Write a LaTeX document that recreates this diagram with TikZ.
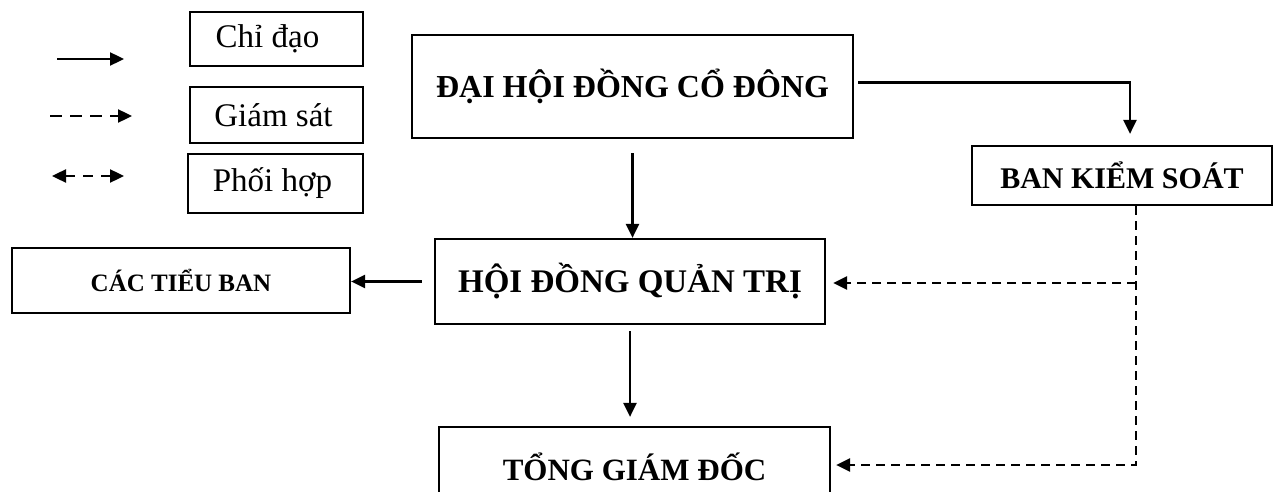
\documentclass[tikz,border=0pt]{standalone}
\usepackage{fontspec}
\setmainfont{Liberation Serif}
\usetikzlibrary{arrows.meta,calc}
\tikzset{
  box/.style={draw=black, line width=2.2pt, inner sep=0pt, align=center},
  mainbox/.style={box, font=\fontsize{32}{38}\selectfont\bfseries},
  legbox/.style={box, font=\fontsize{33}{40}\selectfont},
  tip/.style={-{Triangle[length=14pt,width=13pt]}},
  solidarrow/.style={line width=2.4pt, tip},
  dasharrow/.style={line width=2.4pt, tip, dash pattern=on 9pt off 6pt},
}
\begin{document}
\begin{tikzpicture}[x=1pt,y=-1pt]
\clip (0,0) rectangle (1274,492);
\fill[white] (0,0) rectangle (1274,492);
% legend
\node[legbox, minimum width=173pt, minimum height=54pt] (lchi) at (276.5,39) {\raisebox{-3pt}{Chỉ đạo}\hspace*{18pt}};
\node[legbox, minimum width=173pt, minimum height=56pt] (lgiam) at (276.5,115) {\raisebox{-3pt}{Giám sát}\hspace*{6pt}};
\node[legbox, minimum width=175pt, minimum height=59pt] (lphoi) at (275.5,183.5) {Phối hợp\hspace*{6pt}};
\coordinate (a1) at (57,59);  \coordinate (b1) at (124,59);
\coordinate (a2) at (50,116); \coordinate (b2) at (132,116);
\coordinate (a3) at (52,176); \coordinate (b3) at (124,176);
\draw[solidarrow] (a1) -- (b1);
\draw[line width=2.4pt, tip, dash pattern=on 12pt off 8pt] (a2) -- (b2);
\draw[line width=2.4pt, {Triangle[length=14pt,width=13pt]}-{Triangle[length=14pt,width=13pt]}, dash pattern=on 10pt off 8pt] (a3) -- (b3);
% main boxes
\node[mainbox, minimum width=441pt, minimum height=103pt] (dh) at (632.5,86.5) {ĐẠI HỘI ĐỒNG CỔ ĐÔNG};
\node[mainbox, font=\fontsize{33}{38}\selectfont\bfseries, minimum width=390pt, minimum height=85pt] (hd) at (630,281.5) {HỘI ĐỒNG QUẢN TRỊ};
\node[mainbox, font=\fontsize{30}{36}\selectfont\bfseries, minimum width=300pt, minimum height=59pt] (bks) at (1122,175.5) {BAN KIỂM SOÁT};
\node[mainbox, font=\fontsize{25}{30}\selectfont\bfseries, minimum width=338pt, minimum height=65pt] (ctb) at (181,280.5) {CÁC TIỂU BAN};
\node[mainbox, font=\fontsize{31}{36}\selectfont\bfseries, minimum width=391pt, minimum height=80pt] (tgd) at (634.5,467) {TỔNG GIÁM ĐỐC};
% connectors
\draw[solidarrow, shorten <=4pt, shorten >=11pt] ([yshift=4pt]dh.east) -| ([xshift=8pt]bks.north);
\draw[solidarrow, shorten <=14pt] (dh.south) -- (dh.south |- hd.north);
\draw[solidarrow, shorten <=12pt] (hd.west) -- (ctb.east |- hd.west);
\draw[solidarrow, shorten <=6pt, shorten >=9pt] (hd.south) -- (hd.south |- tgd.north);
\coordinate (j1) at (1136,283);
\coordinate (j2) at (1136,465);
\draw[dasharrow, shorten >=5pt] (bks.south -| j1) -- (j2) -- (tgd.east |- j2);
\draw[dasharrow, shorten >=7pt] (j1) -- (hd.east |- j1);
\end{tikzpicture}
\end{document}
